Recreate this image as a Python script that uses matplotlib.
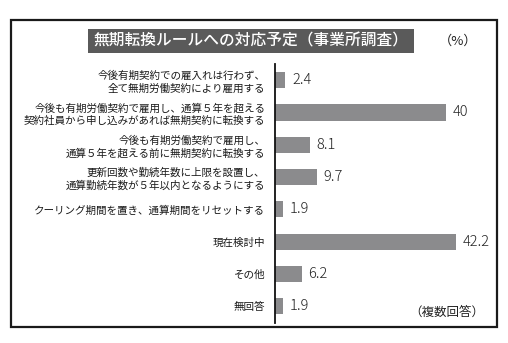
import matplotlib
matplotlib.use("Agg")
import matplotlib.pyplot as plt
from matplotlib.patches import Rectangle

plt.rcParams['font.family'] = ['Noto Sans CJK JP', 'DejaVu Sans']

# data
categories = [
    "今後有期契約での雇入れは行わず、\n全て無期労働契約により雇用する",
    "今後も有期労働契約で雇用し、通算５年を超える\n契約社員から申し込みがあれば無期契約に転換する",
    "今後も有期労働契約で雇用し、\n通算５年を超える前に無期契約に転換する",
    "更新回数や勤続年数に上限を設置し、\n通算勤続年数が５年以内となるようにする",
    "クーリング期間を置き、通算期間をリセットする",
    "現在検討中",
    "その他",
    "無回答",
]
values = [2.4, 40, 8.1, 9.7, 1.9, 42.2, 6.2, 1.9]
value_labels = ["2.4", "40", "8.1", "9.7", "1.9", "42.2", "6.2", "1.9"]
title = "無期転換ルールへの対応予定（事業所調査）"

W, H = 508, 343
fig = plt.figure(figsize=(W / 100, H / 100), dpi=100)
fig.patch.set_facecolor("white")

# outer frame
fig.patches.append(Rectangle((11 / W, 1 - 327 / H), 486 / W, 307 / H,
                             transform=fig.transFigure, fill=False,
                             edgecolor="#1a1a1a", linewidth=1.6))
# title box
fig.patches.append(Rectangle((88 / W, 1 - 53 / H), 326 / W, 24 / H,
                             transform=fig.transFigure, facecolor="#5a5a5a",
                             edgecolor="none"))
fig.text(251 / W, 1 - 41 / H, title, color="white", fontsize=11.3,
         fontweight="medium", ha="center", va="center")
fig.text(458 / W, 1 - 41 / H, "（%）", color="#222222", fontsize=9.5,
         ha="center", va="center")
fig.text(447 / W, 1 - 312 / H, "（複数回答）", color="#222222", fontsize=9,
         ha="center", va="center")

# axes: left spine at x=275px, y range 64..323px
ax = fig.add_axes([275 / W, 1 - 323 / H, 214 / W, 259 / H])
ax.set_facecolor("none")
y = list(range(len(values)))
ax.barh(y, values, height=0.5, color="#8b8b8d")
ax.set_xlim(0, 50)
ax.set_ylim(7.52, -0.5)
for yi, v, lab in zip(y, values, value_labels):
    ax.annotate(lab, (v, yi), xytext=(5, 0), textcoords="offset points",
                va="center", ha="left", fontsize=10.5, fontweight="light",
                color="#222222")

ax.set_yticks(y)
ax.set_yticklabels(categories, fontsize=7.6, linespacing=1.25, color="#1a1a1a")
ax.tick_params(axis="y", length=0, pad=7)
ax.set_xticks([])
for s in ["top", "right", "bottom"]:
    ax.spines[s].set_visible(False)
ax.spines["left"].set_linewidth(1.3)
ax.spines["left"].set_color("#111111")

fig.savefig("out.png", dpi=100)
